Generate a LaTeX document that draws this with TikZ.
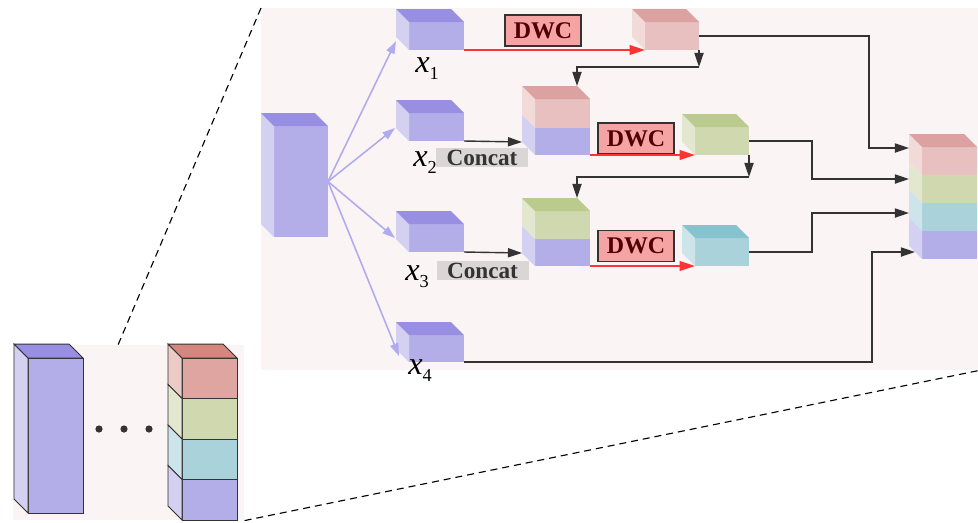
\documentclass[tikz,border=0pt]{standalone}
\usepackage{fontspec}
\setmainfont{Liberation Serif}
\usepackage{xcolor}
\usetikzlibrary{arrows.meta, positioning}

\definecolor{panelbg}{HTML}{FAF4F4}
\definecolor{purF}{HTML}{B4AEE8}
\definecolor{purT}{HTML}{988FE2}
\definecolor{purS}{HTML}{D4D0F2}
\definecolor{pinkF}{HTML}{E8C0BF}
\definecolor{pinkT}{HTML}{DCA2A1}
\definecolor{pinkS}{HTML}{F2DAD9}
\definecolor{rosF}{HTML}{DFA5A0}
\definecolor{rosT}{HTML}{D4867F}
\definecolor{rosS}{HTML}{ECCBC7}
\definecolor{grnF}{HTML}{CFD8AE}
\definecolor{grnT}{HTML}{BBCB8E}
\definecolor{grnS}{HTML}{E3E7D0}
\definecolor{bluF}{HTML}{A9D2DA}
\definecolor{bluT}{HTML}{86C3CF}
\definecolor{bluS}{HTML}{CCE4EA}
\definecolor{dwcfill}{HTML}{F5A3A3}
\definecolor{dwctext}{HTML}{500000}
\definecolor{fanline}{HTML}{B0ABEC}
\definecolor{redline}{HTML}{FF3333}
\definecolor{linegray}{HTML}{333333}
\definecolor{concatbg}{HTML}{D9D6D5}

\def\pxu{0.025cm}
\def\dep{13}

\tikzstyle{panel} = [
    rectangle,
    inner sep=0pt,
    fill=panelbg,
    draw=none
]
\tikzstyle{face} = [
    rectangle,
    inner sep=0pt,
    outer sep=0pt
]
\tikzstyle{dwcbox} = [
    rectangle,
    minimum width=76*0.025cm,
    minimum height=31*0.025cm,
    inner sep=0pt,
    draw=linegray,
    line width=0.8pt,
    fill=dwcfill,
    text=dwctext,
    font=\bfseries\fontsize{17}{18}\selectfont
]
\tikzstyle{concatbox} = [
    rectangle,
    minimum width=92*0.025cm,
    minimum height=19*0.025cm,
    inner sep=0pt,
    fill=concatbg,
    text=linegray,
    font=\bfseries\fontsize{16.5}{17}\selectfont
]
\tikzstyle{lbl} = [
    inner sep=0pt,
    font=\fontsize{23}{25}\selectfont
]
\tikzstyle{arrow} = [
    line width=1pt,
    draw=linegray,
    -{Triangle[length=10pt,width=6.5pt]}
]
\tikzstyle{redarrow} = [
    line width=1.1pt,
    draw=redline,
    -{Triangle[length=11pt,width=7pt]}
]
\tikzstyle{fan} = [
    line width=1.1pt,
    draw=fanline,
    -{Triangle[length=9pt,width=6pt]}
]
\tikzstyle{dashline} = [
    line width=0.8pt,
    draw=black,
    dash pattern=on 5pt off 3.5pt
]
\tikzset{edge/.style={}}

% front face (named node) and left side face of a block
\newcommand{\blockfront}[6]{%
  \node[face, fill=#6F, edge, minimum width=#4*\pxu, minimum height=#5*\pxu, anchor=north west] (#1) at (#2,#3) {};
  \path[fill=#6S, edge] (#1.north west) -- ++(-\dep,-\dep) -- ++(0,#5) -- (#1.south west) -- cycle;
}
% top face of a block
\newcommand{\blocktop}[2]{%
  \path[fill=#2T, edge] (#1.north west) -- ++(-\dep,-\dep) -- ([shift={(-\dep,-\dep)}]#1.north east) -- (#1.north east) -- cycle;
}
\newcommand{\xsub}[1]{\textit{x}\raisebox{-5.5pt}{\fontsize{13}{13}\selectfont #1}}

\begin{document}
\begin{tikzpicture}[x=0.025cm, y=-0.025cm]
\useasboundingbox (0,0) rectangle (978,522);

% Panels
\node[panel, minimum width=717*\pxu, minimum height=362*\pxu, anchor=north west] (zoom) at (261,8) {};
\node[panel, minimum width=231*\pxu, minimum height=175*\pxu, anchor=north west] (overview) at (13,345) {};

\draw[dashline] (zoom.north west) -- ([shift={(105,0)}]overview.north west);
\draw[dashline] (overview.south east) -- (zoom.south east);

% Overview
\begin{scope}[edge/.style={draw=linegray, line width=0.7pt}]
\def\dep{14}
\blockfront{ovin}{28}{358}{55}{155}{pur}
\blocktop{ovin}{pur}
\blockfront{ov1}{182}{358}{55}{40.5}{ros}
\blockfront{ov2}{182}{398.5}{55}{40.5}{grn}
\blockfront{ov3}{182}{439}{55}{40.5}{blu}
\blockfront{ov4}{182}{479.5}{55}{40.5}{pur}
\blocktop{ov1}{ros}
\foreach \i in {0,1,2}
    \fill[linegray] (99+25*\i,429) circle[radius=3.6];
\end{scope}

% Input and split
\blockfront{inp}{274}{126}{54}{111}{pur}
\blocktop{inp}{pur}
\blockfront{x1}{409}{22}{55}{28}{pur}
\blocktop{x1}{pur}
\blockfront{x2}{409}{113}{55}{28}{pur}
\blocktop{x2}{pur}
\blockfront{x3}{409}{224}{55}{28}{pur}
\blocktop{x3}{pur}
\blockfront{x4}{409}{335}{55}{27}{pur}
\blocktop{x4}{pur}

\foreach \t/\sx/\sy in {x1/-13/-9, x2/-14/-13, x3/-14/-14, x4/-10/-6}
    \draw[fan] (inp.east) -- ([shift={(\sx,\sy)}]\t.south west);

\node[lbl, anchor=north west] (lx1) at (415,57) {\xsub{1}};
\node[lbl, anchor=north west] (lx2) at (413,151) {\xsub{2}};
\node[lbl, anchor=north west] (lx3) at (405,265) {\xsub{3}};
\node[lbl, anchor=north west] (lx4) at (408,359) {\xsub{4}};

% Row 1
\node[dwcbox] (dwc1) at (543,30.5) {DWC};
\blockfront{p1}{645}{22}{54}{28}{pink}
\blocktop{p1}{pink}
\draw[redarrow] (x1.south east) -- (p1.south west);

% Row 2
\blockfront{c2a}{535}{99}{55}{29}{pink}
\blockfront{c2b}{535}{128}{55}{27}{pur}
\blocktop{c2a}{pink}
\node[concatbox] (cc2) at (482,157.5) {Concat};
\draw[arrow] (x2.south east) -- ([shift={(-13,-13)}]c2b.south west);
\draw[arrow] (p1.south east) -- ++(0,17) coordinate (j1);
\draw[arrow] (j1) -| ([shift={(-13,-13)}]c2a.north east);
\node[dwcbox] (dwc2) at (636,138.5) {DWC};
\blockfront{g2}{695}{127}{54}{28}{grn}
\blocktop{g2}{grn}
\draw[redarrow] (c2b.south east) -- (g2.south west);

% Row 3
\blockfront{c3a}{535}{211}{55}{28}{grn}
\blockfront{c3b}{535}{239}{55}{27}{pur}
\blocktop{c3a}{grn}
\node[concatbox] (cc3) at (482.5,270.5) {Concat};
\draw[arrow] (x3.south east) -- ([shift={(-13,-13)}]c3b.south west);
\draw[arrow] (g2.south east) -- ++(0,22) coordinate (j2);
\draw[arrow] (j2) -| ([shift={(-13,-13)}]c3a.north east);
\node[dwcbox] (dwc3) at (636,246) {DWC};
\blockfront{b3}{695}{238}{54}{28}{blu}
\blocktop{b3}{blu}
\draw[redarrow] (c3b.south east) -- (b3.south west);

% Output
\blockfront{o1}{922}{147}{55}{28}{pink}
\blockfront{o2}{922}{175}{55}{28}{grn}
\blockfront{o3}{922}{203}{55}{28}{blu}
\blockfront{o4}{922}{231}{55}{28}{pur}
\blocktop{o1}{pink}

\draw[arrow] (p1.east) -- ++(170,0) |- ([shift={(-13,-13)}]o1.west);
\draw[arrow] (g2.east) -- ++(63,0) |- ([shift={(-13,-10)}]o2.west);
\draw[arrow] (b3.east) -- ++(63,0) |- ([shift={(-13,-4)}]o3.west);
\draw[arrow] (x4.south east) -- ++(408,0) |- ([shift={(-7,-7)}]o4.south west);

\end{tikzpicture}
\end{document}
